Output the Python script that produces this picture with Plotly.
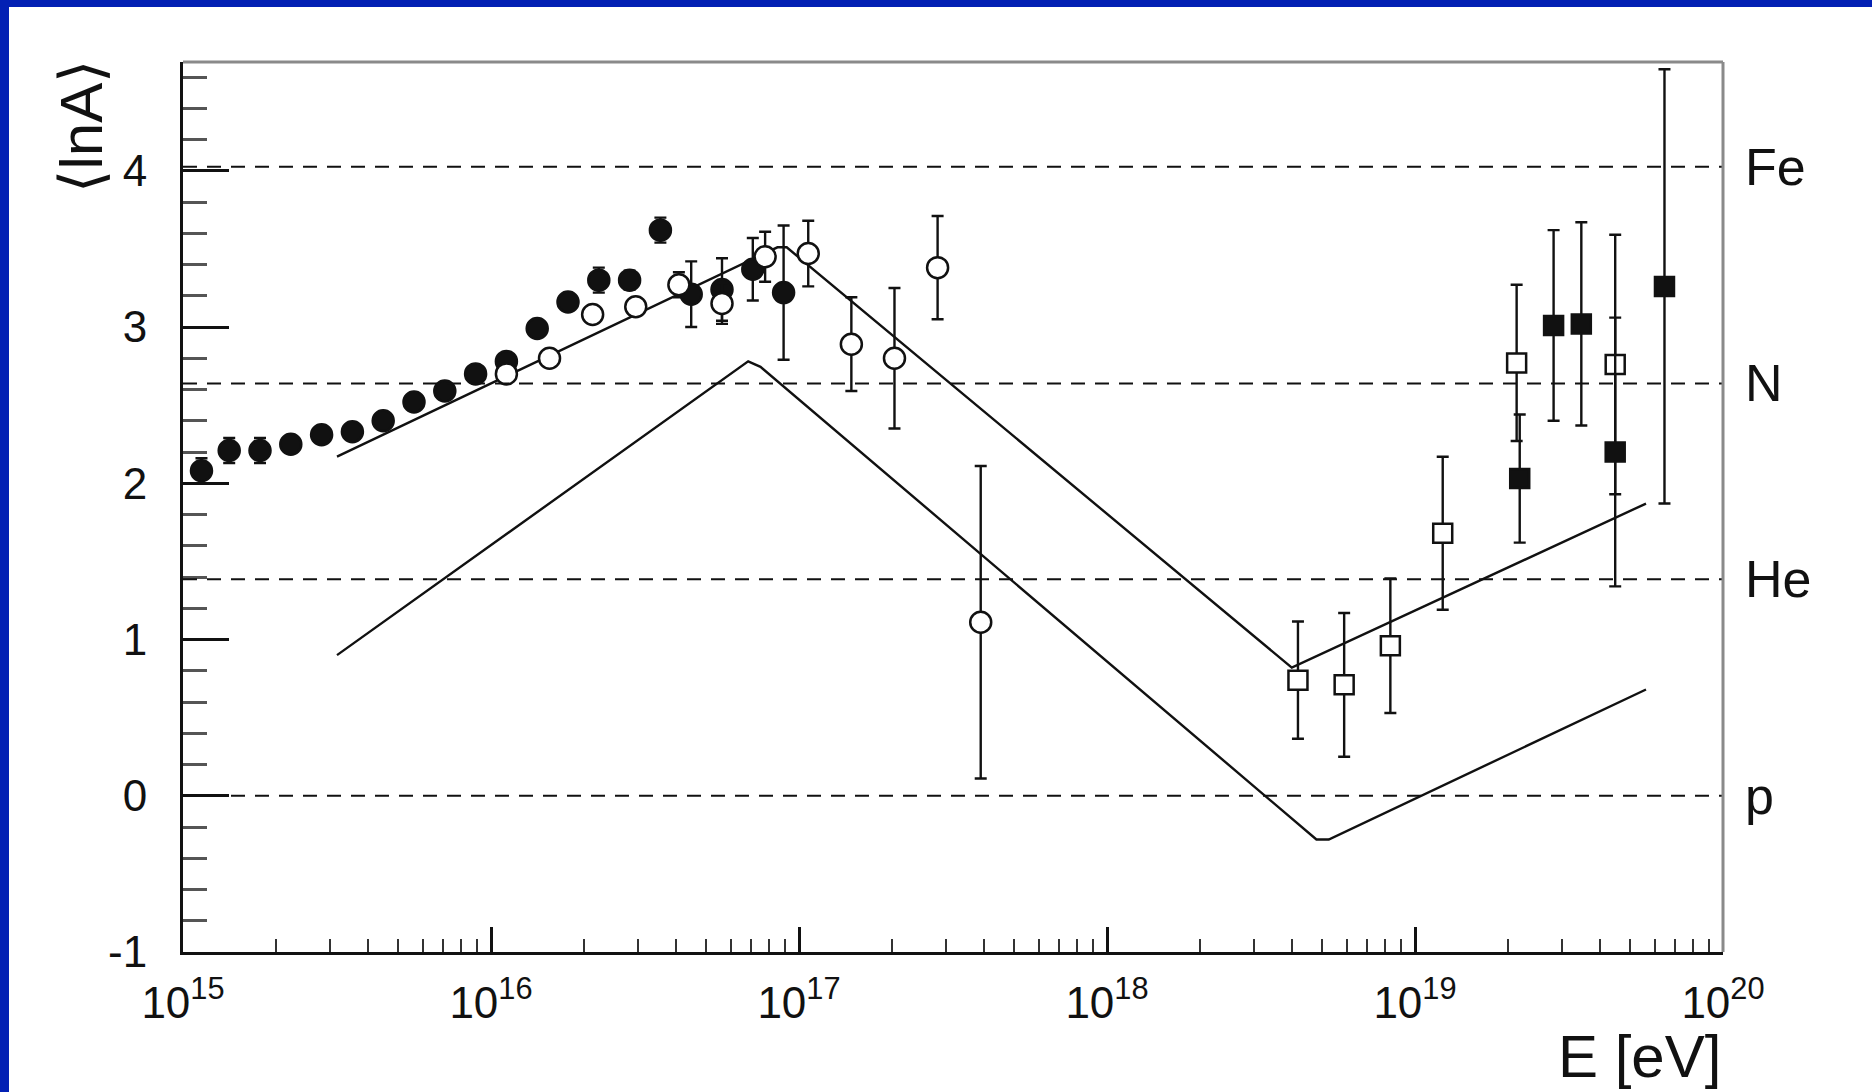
import numpy as np
import plotly.graph_objects as go

# ---------------- data ----------------
# filled circles
logE_fc = [15.06, 15.15, 15.25, 15.35, 15.45, 15.55, 15.65, 15.75, 15.85, 15.95,
           16.05, 16.15, 16.25, 16.35, 16.45, 16.55, 16.65, 16.75, 16.85, 16.95]
lnA_fc = [2.08, 2.21, 2.21, 2.25, 2.31, 2.33, 2.40, 2.52, 2.59, 2.70,
          2.78, 2.99, 3.16, 3.30, 3.30, 3.62, 3.21, 3.24, 3.37, 3.22]
err_fc = [0.08, 0.08, 0.08, 0.04, 0.04, 0.04, 0.04, 0.04, 0.04, 0.04,
          0.05, 0.05, 0.05, 0.08, 0.06, 0.08, 0.21, 0.20, 0.20, 0.43]

# open circles
logE_oc = [16.05, 16.19, 16.33, 16.47, 16.61, 16.75, 16.89, 17.03, 17.17, 17.31, 17.45, 17.59]
lnA_oc = [2.70, 2.80, 3.08, 3.13, 3.27, 3.15, 3.45, 3.47, 2.89, 2.80, 3.38, 1.11]
err_oc = [0.03, 0.03, 0.03, 0.03, 0.08, 0.13, 0.16, 0.21, 0.30, 0.45, 0.33, 1.00]

# open squares
logE_os = [18.62, 18.77, 18.92, 19.09, 19.33, 19.65]
lnA_os = [0.74, 0.71, 0.96, 1.68, 2.77, 2.76]
err_os = [0.375, 0.46, 0.43, 0.49, 0.50, 0.83]

# filled squares
logE_fs = [19.34, 19.45, 19.54, 19.65, 19.81]
lnA_fs = [2.03, 3.01, 3.02, 2.20, 3.26]
err_fs = [0.41, 0.61, 0.65, 0.86, 1.39]

# model curves
logE_upper = [15.50, 16.93, 16.96, 18.60, 19.75]
lnA_upper = [2.17, 3.51, 3.51, 0.82, 1.87]
logE_lower = [15.50, 16.835, 16.875, 18.68, 18.72, 19.75]
lnA_lower = [0.90, 2.78, 2.745, -0.28, -0.28, 0.68]

# reference nuclei
nuclei = ["Fe", "N", "He", "p"]
mass_numbers = [56, 14, 4, 1]

# axis ticks
x_decades = [15, 16, 17, 18, 19, 20]
y_ticks = [-1, 0, 1, 2, 3, 4]
y_ticktext = ["-1", "0", "1", "2", "3", "4"]

# ---------------- figure ----------------
W, H = 1872, 1092
ML, MR, MT, MB = 183, 149, 62, 140
PW, PH = W - ML - MR, H - MT - MB

BLUE = "#0320B4"
INK = "#111111"
FONT = "Liberation Sans, Arial, sans-serif"

def E(v):
    return [float(10.0 ** float(x)) for x in v]

fig = go.Figure()

# model lines
for lx, ly in [(logE_upper, lnA_upper), (logE_lower, lnA_lower)]:
    fig.add_trace(go.Scatter(x=E(lx), y=ly, mode="lines",
                             line=dict(color=INK, width=2.4), hoverinfo="skip"))

def pts(lx, ly, le, symbol, fill, size):
    return go.Scatter(
        x=E(lx), y=ly, mode="markers",
        marker=dict(symbol=symbol, size=size, color=fill,
                    line=dict(color=INK, width=2.5)),
        error_y=dict(type="data", array=le, visible=True,
                     color=INK, thickness=2.4, width=6),
    )

fig.add_trace(pts(logE_fc, lnA_fc, err_fc, "circle", INK, 21))
fig.add_trace(pts(logE_oc, lnA_oc, err_oc, "circle", "white", 21))
fig.add_trace(pts(logE_os, lnA_os, err_os, "square", "white", 19))
fig.add_trace(pts(logE_fs, lnA_fs, err_fs, "square", INK, 19))

shapes = []
# white page inside blue frame
shapes.append(dict(type="rect", xref="paper", yref="paper", layer="below",
                   x0=(9 - ML) / PW, x1=(W + 20 - ML) / PW,
                   y0=-(MB + 30) / PH, y1=(H - MB - 7) / PH,
                   fillcolor="white", line=dict(width=0)))
# dashed reference lines
levels = [float(v) for v in np.log(mass_numbers)]
for lv in levels:
    shapes.append(dict(type="line", xref="paper", yref="y", x0=0, x1=1, y0=lv, y1=lv,
                       line=dict(color=INK, width=2, dash="14px,10px"), layer="above"))
# top and right frame (grey)
shapes.append(dict(type="line", xref="paper", yref="paper", x0=0, x1=1, y0=1, y1=1,
                   line=dict(color="#8a8a8a", width=3)))
shapes.append(dict(type="line", xref="paper", yref="paper", x0=1, x1=1, y0=0, y1=1,
                   line=dict(color="#8a8a8a", width=3)))

annotations = []
for name, lv in zip(nuclei, levels):
    annotations.append(dict(text=name, xref="paper", yref="y",
                            x=(1743 - ML) / PW, y=lv, xanchor="left", yanchor="middle",
                            showarrow=False, font=dict(family=FONT, size=52, color=INK)))
annotations.append(dict(text="E [eV]", xref="paper", yref="paper",
                        x=(1723 - ML) / PW, y=-(1056 - (H - MB)) / PH,
                        xanchor="right", yanchor="middle", showarrow=False,
                        font=dict(family=FONT, size=60, color=INK)))
annotations.append(dict(text="⟨lnA⟩", xref="paper", yref="paper",
                        x=(81 - ML) / PW, y=(H - MB - 58) / PH,
                        xanchor="center", yanchor="top", textangle=-90, showarrow=False,
                        font=dict(family=FONT, size=60, color=INK)))

x_minor = [float(np.log10(m) + d) for d in x_decades[:-1] for m in range(2, 10)]

fig.update_layout(
    width=W, height=H,
    margin=dict(l=ML, r=MR, t=MT, b=MB),
    paper_bgcolor=BLUE, plot_bgcolor="white",
    showlegend=False,
    shapes=shapes, annotations=annotations,
    xaxis=dict(
        type="log", range=[15, 20],
        tickmode="array", tickvals=E(x_decades),
        ticktext=["10<sup>%d</sup>" % d for d in x_decades],
        ticks="inside", ticklen=25, tickwidth=2.5, tickcolor=INK,
        minor=dict(tickmode="array", tickvals=E(x_minor), ticks="inside",
                   ticklen=13, tickwidth=2, tickcolor="#333", showgrid=False),
        showline=True, linecolor=INK, linewidth=3,
        showgrid=False, zeroline=False,
        tickfont=dict(family=FONT, size=44, color=INK),
        ticklabelstandoff=10,
    ),
    yaxis=dict(
        range=[-1, 4.696],
        tickmode="array", tickvals=y_ticks, ticktext=y_ticktext,
        ticks="inside", ticklen=46, tickwidth=3, tickcolor=INK,
        minor=dict(dtick=0.2, ticks="inside", ticklen=24, tickwidth=3,
                   tickcolor="#555", showgrid=False),
        showline=True, linecolor=INK, linewidth=3,
        showgrid=False, zeroline=False,
        tickfont=dict(family=FONT, size=44, color=INK),
        ticklabelstandoff=24,
    ),
)

fig.write_html("out.html")
